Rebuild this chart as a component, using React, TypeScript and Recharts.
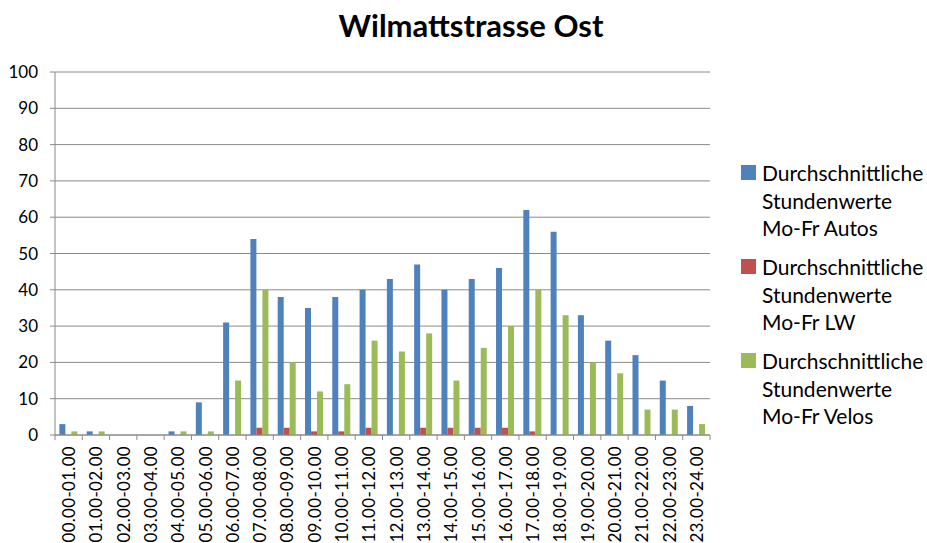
import React from 'react';
import { BarChart, Bar, XAxis, YAxis, CartesianGrid, Legend } from 'recharts';

const hours = [
  '00.00-01.00', '01.00-02.00', '02.00-03.00', '03.00-04.00', '04.00-05.00', '05.00-06.00',
  '06.00-07.00', '07.00-08.00', '08.00-09.00', '09.00-10.00', '10.00-11.00', '11.00-12.00',
  '12.00-13.00', '13.00-14.00', '14.00-15.00', '15.00-16.00', '16.00-17.00', '17.00-18.00',
  '18.00-19.00', '19.00-20.00', '20.00-21.00', '21.00-22.00', '22.00-23.00', '23.00-24.00',
];
const autos = [3, 1, 0, 0, 1, 9, 31, 54, 38, 35, 38, 40, 43, 47, 40, 43, 46, 62, 56, 33, 26, 22, 15, 8];
const lw = [0, 0, 0, 0, 0, 0, 0, 2, 2, 1, 1, 2, 0, 2, 2, 2, 2, 1, 0, 0, 0, 0, 0, 0];
const velos = [1, 1, 0, 0, 1, 1, 15, 40, 20, 12, 14, 26, 23, 28, 15, 24, 30, 40, 33, 20, 17, 7, 7, 3];
const yTicks = [0, 10, 20, 30, 40, 50, 60, 70, 80, 90, 100];
const title = 'Wilmattstrasse Ost';
const seriesNames = {
  autos: 'Durchschnittliche Stundenwerte Mo-Fr Autos',
  lw: 'Durchschnittliche Stundenwerte Mo-Fr LW',
  velos: 'Durchschnittliche Stundenwerte Mo-Fr Velos',
};

const data = hours.map((h, i) => ({ hour: h, autos: autos[i], lw: lw[i], velos: velos[i] }));

const FONT = 'Lato, "Open Sans", sans-serif';
const GRID = '#8a8a8a';
const TICK_SIZE = 5;
const TICK_MARGIN = 6;
const LEGEND_W = 186;

const XTick = (props: any) => {
  const { x, y, payload, index } = props;
  const off = payload && payload.offset ? payload.offset : 0;
  const axisY = y - TICK_SIZE - TICK_MARGIN;
  const last = index === hours.length - 1;
  return (
    <g>
      <line x1={x - off} x2={x - off} y1={axisY} y2={axisY + TICK_SIZE} stroke={GRID} strokeWidth={1} />
      {last && (
        <line x1={x + off} x2={x + off} y1={axisY} y2={axisY + TICK_SIZE} stroke={GRID} strokeWidth={1} />
      )}
      <text
        x={x}
        y={y}
        transform={`rotate(-90, ${x}, ${y})`}
        textAnchor="end"
        dominantBaseline="central"
        fontFamily={FONT}
        fontSize={17}
        letterSpacing={0.3}
        fill="#000"
      >
        {payload.value}
      </text>
    </g>
  );
};

const LegendContent = (props: any) => {
  const { payload } = props;
  return (
    <div style={{ fontFamily: FONT, fontSize: 21, color: '#000' }}>
      {(payload || []).map((p: any, i: number) => {
        const words = String(p.value).split(' ');
        const lines = [words[0], words[1], words.slice(2).join(' ')];
        return (
          <div key={i} style={{ display: 'flex', alignItems: 'flex-start', marginBottom: 11.5 }}>
            <div style={{ width: 15, height: 15, background: p.color, marginTop: 6, marginRight: 6, flexShrink: 0 }} />
            <div style={{ lineHeight: '27.5px' }}>
              {lines.map((l, j) => (
                <div key={j}>{l}</div>
              ))}
            </div>
          </div>
        );
      })}
    </div>
  );
};

export default function App() {
  return (
    <div style={{ position: 'absolute', left: 0, top: 0, width: 927, height: 543, background: '#fff' }}>
      <div
        style={{
          position: 'absolute',
          left: 0,
          width: 942,
          top: 6,
          textAlign: 'center',
          fontFamily: FONT,
          fontWeight: 'bold',
          fontSize: 31,
          color: '#000',
        }}
      >
        {title}
      </div>
      <BarChart
        width={927}
        height={543}
        data={data}
        margin={{ top: 72, right: 217 - LEGEND_W, bottom: 0, left: 0 }}
        barCategoryGap="16%"
        barGap={0}
      >
        <CartesianGrid vertical={false} stroke={GRID} strokeWidth={1} />
        <XAxis
          dataKey="hour"
          height={108}
          interval={0}
          tickLine={false}
          tickSize={TICK_SIZE}
          tickMargin={TICK_MARGIN}
          axisLine={{ stroke: GRID }}
          tick={<XTick />}
        />
        <YAxis
          width={55}
          domain={[0, 100]}
          ticks={yTicks}
          interval={0}
          tickSize={5}
          tickMargin={12}
          tickLine={{ stroke: GRID }}
          axisLine={{ stroke: GRID }}
          tick={{ fontFamily: FONT, fontSize: 17, fill: '#000' }}
        />
        <Legend
          layout="vertical"
          align="right"
          verticalAlign="top"
          content={<LegendContent />}
          wrapperStyle={{ position: 'absolute', left: 741, top: 159, width: LEGEND_W }}
        />
        <Bar dataKey="autos" name={seriesNames.autos} fill="#4F81BD" isAnimationActive={false} />
        <Bar dataKey="lw" name={seriesNames.lw} fill="#C0504D" isAnimationActive={false} />
        <Bar dataKey="velos" name={seriesNames.velos} fill="#9BBB59" isAnimationActive={false} />
      </BarChart>
    </div>
  );
}
